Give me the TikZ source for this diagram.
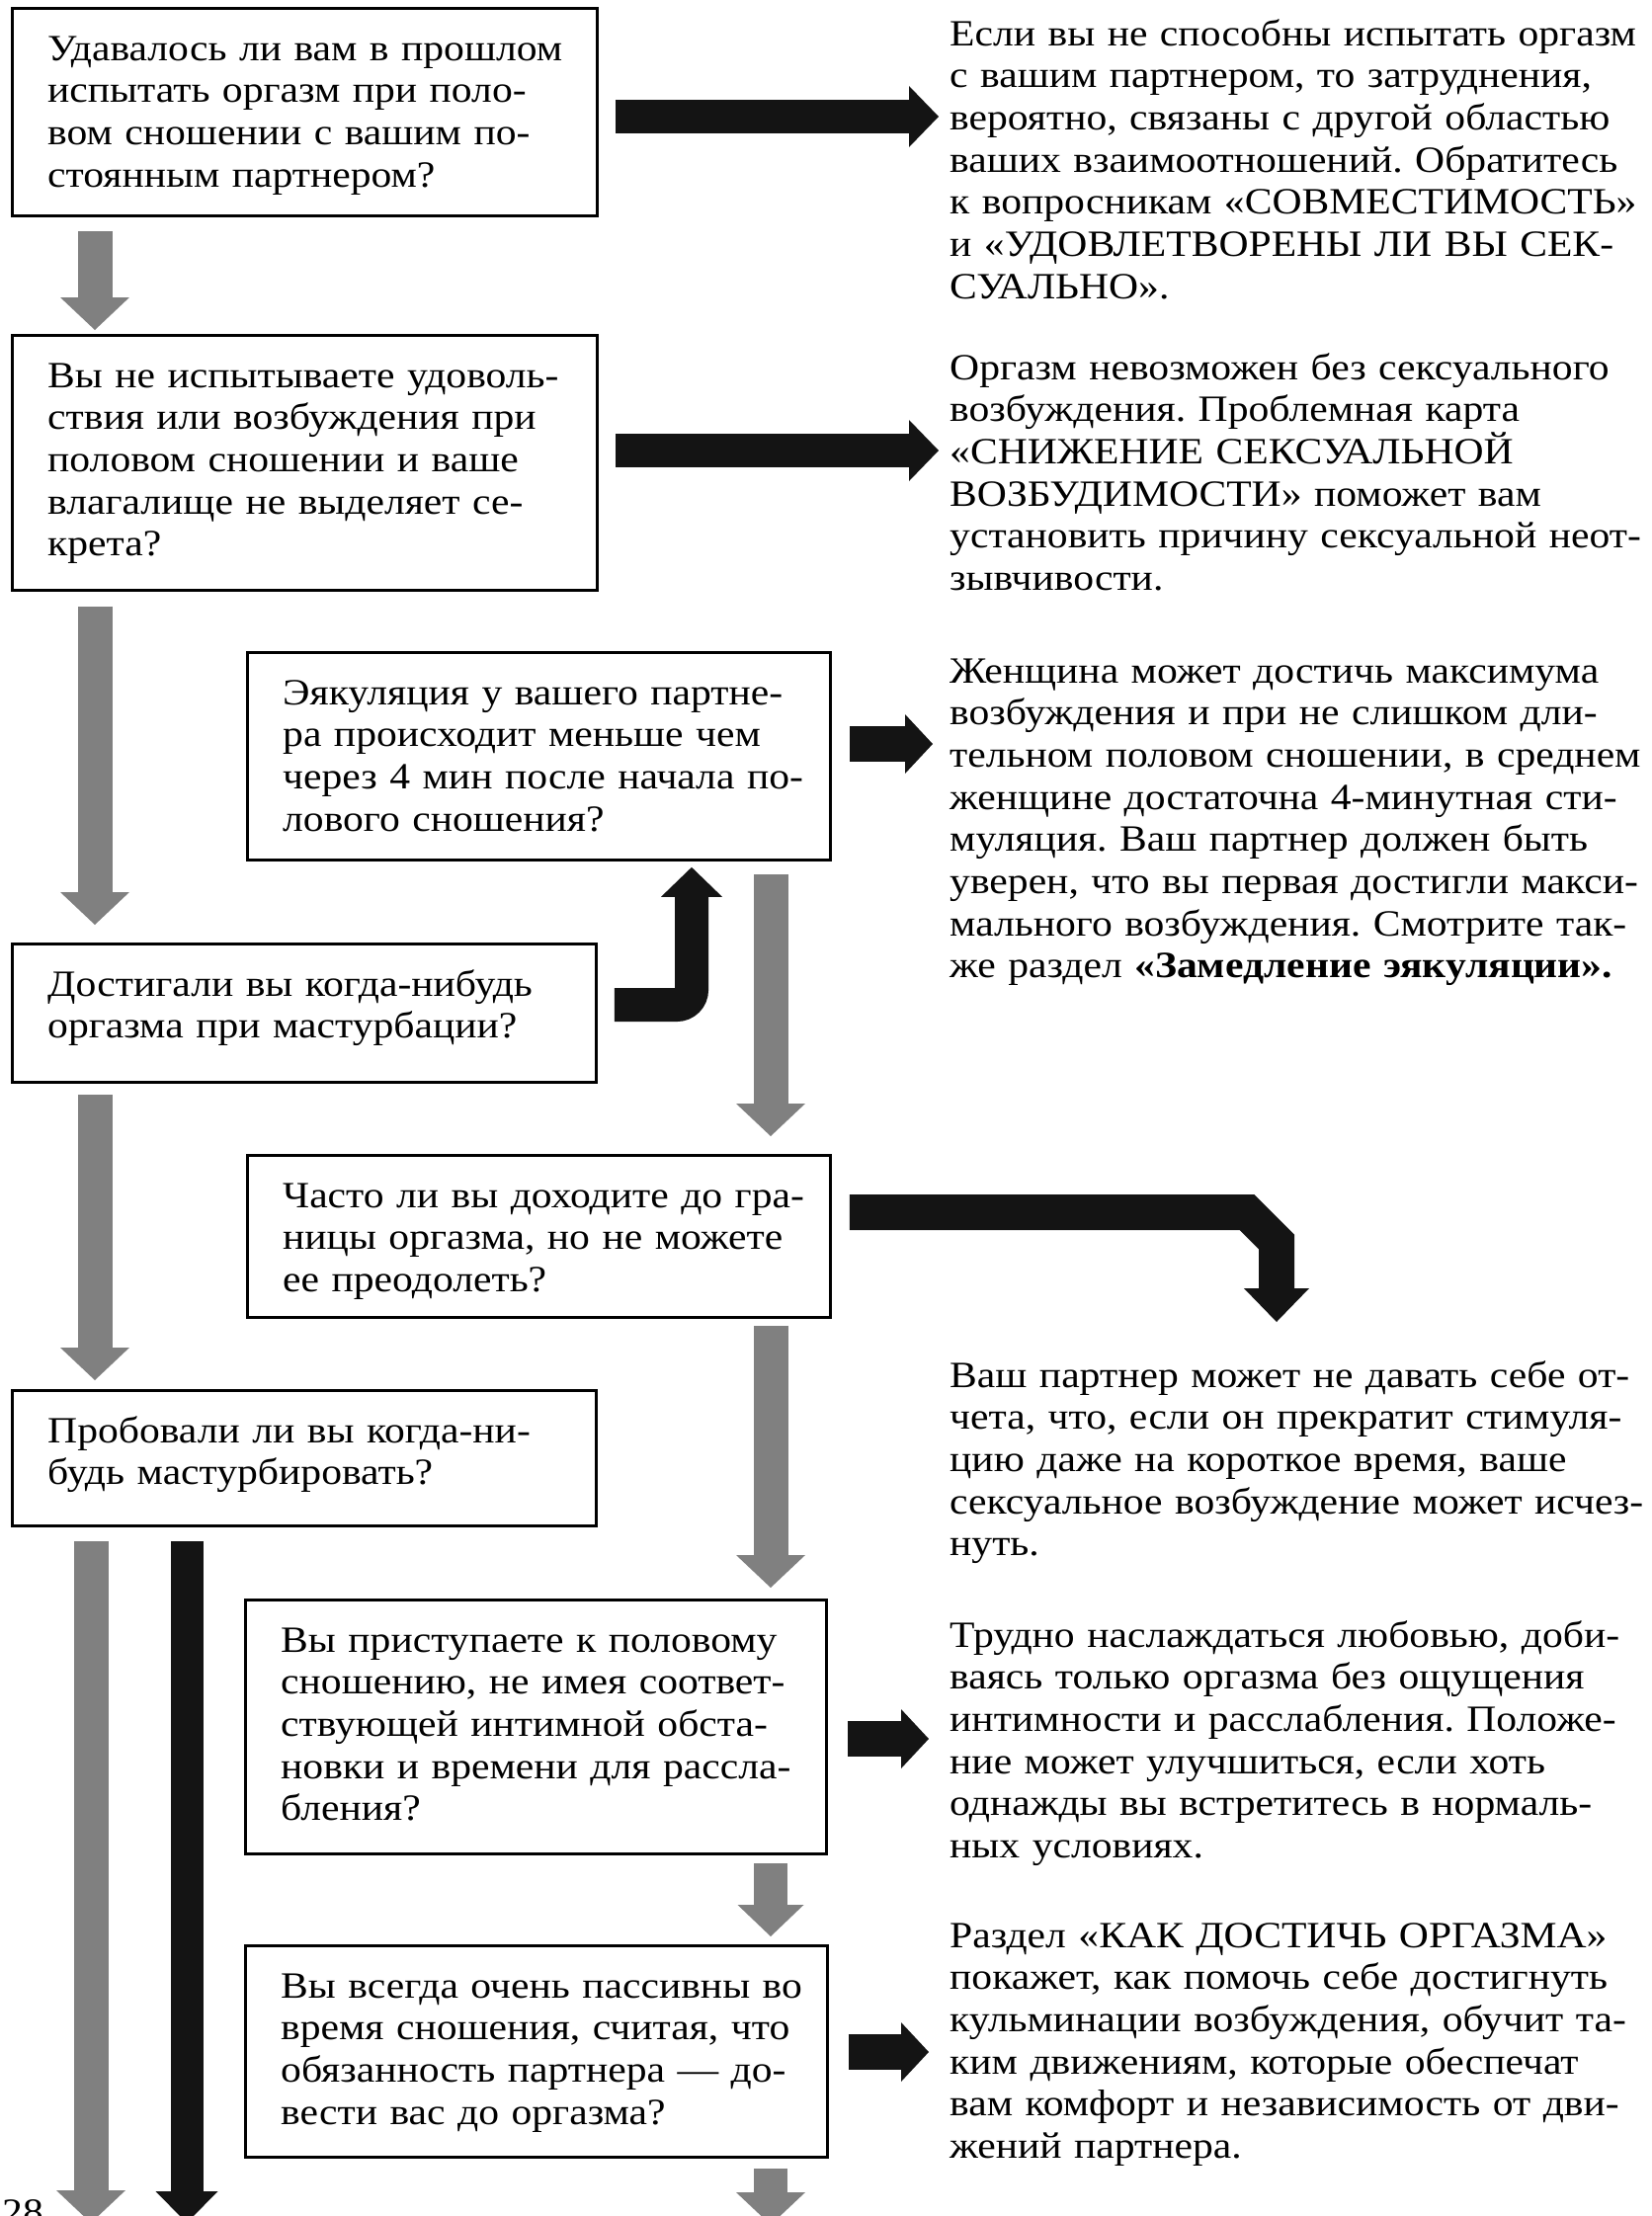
\documentclass[tikz,border=0pt]{standalone}
\usepackage{fontspec}
\setmainfont{Liberation Serif}[FakeStretch=1.11]
\usetikzlibrary{arrows.meta}
\definecolor{arrgray}{gray}{0.5}
\definecolor{arrblack}{gray}{0.08}
\tikzset{
  qbox/.style={draw=black, line width=2.8pt, rectangle, inner sep=0pt, anchor=north west},
  btext/.style={anchor=base west, inner sep=0pt, text width=900pt, align=left,
    font=\fontsize{37.5pt}{42.7pt}\selectfont\frenchspacing},
  grayarrow/.style={draw=arrgray, line width=35pt,
    -{Triangle[width=70pt,length=33pt,line width=0pt]}},
  blackarrow/.style={draw=arrblack, line width=34pt,
    -{Triangle[width=62pt,length=30pt,line width=0pt]}},
  shortarrow/.style={draw=arrblack, line width=36pt,
    -{Triangle[width=60pt,length=28pt,line width=0pt]}},
}
\begin{document}
\begin{tikzpicture}[x=1pt,y=-1pt]
\fill[white] (0,0) rectangle (1672,2243);
\clip (0,0) rectangle (1672,2243);

% question boxes
\node[qbox, minimum width=592pt, minimum height=210pt] (q1) at (11,7) {};
\node[qbox, minimum width=592pt, minimum height=258pt] (q2) at (11,338) {};
\node[qbox, minimum width=590pt, minimum height=210pt] (q3) at (249,659) {};
\node[qbox, minimum width=591pt, minimum height=140pt] (q4) at (11,954) {};
\node[qbox, minimum width=590pt, minimum height=164pt] (q5) at (249,1168) {};
\node[qbox, minimum width=591pt, minimum height=137pt] (q6) at (11,1406) {};
\node[qbox, minimum width=588pt, minimum height=257pt] (q7) at (247,1618) {};
\node[qbox, minimum width=589pt, minimum height=214pt] (q8) at (247,1968) {};

% question texts
\node[btext] (q1t) at (48,61) {Удавалось ли вам в прошлом\\испытать оргазм при поло-\\вом сношении с вашим по-\\стоянным партнером?};
\node[btext] (q2t) at (48,392) {Вы не испытываете удоволь-\\ствия или возбуждения при\\половом сношении и ваше\\влагалище не выделяет се-\\крета?};
\node[btext] (q3t) at (286,713) {Эякуляция у вашего партне-\\ра происходит меньше чем\\через 4 мин после начала по-\\лового сношения?};
\node[btext] (q4t) at (48,1008) {Достигали вы когда-нибудь\\оргазма при мастурбации?};
\node[btext] (q5t) at (286,1222) {Часто ли вы доходите до гра-\\ницы оргазма, но не можете\\ее преодолеть?};
\node[btext] (q6t) at (48,1460) {Пробовали ли вы когда-ни-\\будь мастурбировать?};
\node[btext] (q7t) at (284,1672) {Вы приступаете к половому\\сношению, не имея соответ-\\ствующей интимной обста-\\новки и времени для рассла-\\бления?};
\node[btext] (q8t) at (284,2022) {Вы всегда очень пассивны во\\время сношения, считая, что\\обязанность партнера — до-\\вести вас до оргазма?};

% answer texts
\node[btext] (t1) at (961,46) {Если вы не способны испытать оргазм\\с вашим партнером, то затруднения,\\вероятно, связаны с другой областью\\ваших взаимоотношений. Обратитесь\\к вопросникам «СОВМЕСТИМОСТЬ»\\и «УДОВЛЕТВОРЕНЫ ЛИ ВЫ СЕК-\\СУАЛЬНО».};
\node[btext] (t2) at (961,384) {Оргазм невозможен без сексуального\\возбуждения. Проблемная карта\\«СНИЖЕНИЕ СЕКСУАЛЬНОЙ\\ВОЗБУДИМОСТИ» поможет вам\\установить причину сексуальной неот-\\зывчивости.};
\node[btext] (t3) at (961,691) {Женщина может достичь максимума\\возбуждения и при не слишком дли-\\тельном половом сношении, в среднем\\женщине достаточна 4-минутная сти-\\муляция. Ваш партнер должен быть\\уверен, что вы первая достигли макси-\\мального возбуждения. Смотрите так-\\же раздел {\bfseries «Замедление эякуляции».}};
\node[btext] (t5) at (961,1404) {Ваш партнер может не давать себе от-\\чета, что, если он прекратит стимуля-\\цию даже на короткое время, ваше\\сексуальное возбуждение может исчез-\\нуть.};
\node[btext] (t7) at (961,1667) {Трудно наслаждаться любовью, доби-\\ваясь только оргазма без ощущения\\интимности и расслабления. Положе-\\ние может улучшиться, если хоть\\однажды вы встретитесь в нормаль-\\ных условиях.};
\node[btext] (t8) at (961,1971) {Раздел «КАК ДОСТИЧЬ ОРГАЗМА»\\покажет, как помочь себе достигнуть\\кульминации возбуждения, обучит та-\\ким движениям, которые обеспечат\\вам комфорт и независимость от дви-\\жений партнера.};
\node[btext] (pg) at (2,2251) {28};

% columns and levels
\coordinate (colL) at (96,0);
\coordinate (colLL) at (92,0);
\coordinate (colK) at (189,0);
\coordinate (colR) at (780,0);
\coordinate (y1) at (0,118);
\coordinate (y2) at (0,456);
\coordinate (y3) at (0,753);
\coordinate (y7) at (0,1760);
\coordinate (y8) at (0,2077);
\coordinate (endL) at (92,2250);
\coordinate (endK) at (189,2250);
\coordinate (endR) at (780,2252);
\coordinate (bend4) at (700,1017);
\coordinate (bend5a) at (1262,1227);
\coordinate (bend5b) at (1292,1257);
\coordinate (end5) at (1292,1338);

% left column down arrows
\draw[grayarrow, shorten <=14pt, shorten >=4pt] (q1.south -| colL) -- (q2.north -| colL);
\draw[grayarrow, shorten <=15pt, shorten >=18pt] (q2.south -| colL) -- (q4.north -| colL);
\draw[grayarrow, shorten <=11pt, shorten >=9pt] (q4.south -| colL) -- (q6.north -| colL);
\draw[grayarrow, shorten <=14pt] (q6.south -| colLL) -- (endL);
\draw[draw=arrblack, line width=33pt, -{Triangle[width=63pt,length=32pt,line width=0pt]}, shorten <=14pt] (q6.south -| colK) -- (endK);

% right column down arrows
\draw[grayarrow, shorten <=13pt, shorten >=18pt] (q3.south -| colR) -- (q5.north -| colR);
\draw[grayarrow, shorten <=7pt, shorten >=11pt] (q5.south -| colR) -- (q7.north -| colR);
\draw[grayarrow, line width=34pt, -{Triangle[width=67pt,length=32pt,line width=0pt]}, shorten <=8pt, shorten >=8pt] (q7.south -| colR) -- (q8.north -| colR);
\draw[grayarrow, line width=34pt, shorten <=10pt] (q8.south -| colR) -- (endR);

% right arrows to answers
\draw[blackarrow, shorten <=17pt, shorten >=11pt] (q1.east |- y1) -- (t1.west |- y1);
\draw[blackarrow, shorten <=17pt, shorten >=11pt] (q2.east |- y2) -- (t2.west |- y2);
\draw[shortarrow, shorten <=18pt, shorten >=17pt] (q3.east |- y3) -- (t3.west |- y3);
\draw[shortarrow, shorten <=20pt, shorten >=21pt] (q7.east |- y7) -- (t7.west |- y7);
\draw[shortarrow, shorten <=20pt, shorten >=21pt] (q8.east |- y8) -- (t8.west |- y8);

% bent arrows
\draw[blackarrow, rounded corners=15pt, shorten <=17pt, shorten >=6pt] (q4.east |- bend4) -- (bend4) -- (q3.south -| bend4);
\draw[draw=arrblack, line width=36pt, -{Triangle[width=66pt,length=34pt,line width=0pt]}, shorten <=18pt] (q5.east |- bend5a) -- (bend5a) -- (bend5b) -- (end5);
\end{tikzpicture}
\end{document}
